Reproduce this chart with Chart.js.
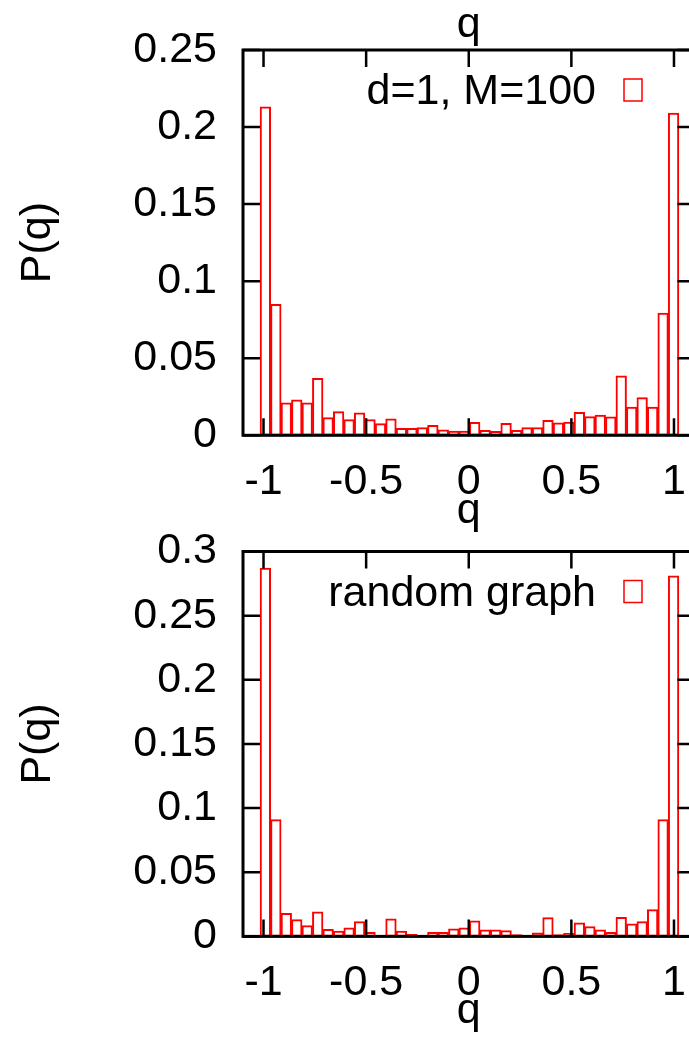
<!DOCTYPE html>
<html>
<head>
<meta charset="utf-8">
<script src="https://cdn.jsdelivr.net/npm/chart.js@4"></script>
<style>
  html, body { margin: 0; padding: 0; background: #fff; overflow: hidden; }
  body { position: relative; width: 689px; height: 1048px; }
  canvas { position: absolute; left: 0; }
  #top { top: 0; }
  #bottom { top: 500px; }
</style>
</head>
<body>
<canvas id="top" width="720" height="545"></canvas>
<canvas id="bottom" width="720" height="548"></canvas>
<script>
// bin centres (q) shared by both histograms
const qBins = [-0.991, -0.940, -0.889, -0.838, -0.787, -0.736, -0.685, -0.634, -0.583, -0.532,
  -0.481, -0.430, -0.379, -0.328, -0.277, -0.226, -0.175, -0.124, -0.073, -0.022,
  0.029, 0.080, 0.131, 0.182, 0.233, 0.284, 0.335, 0.386, 0.437, 0.488,
  0.539, 0.590, 0.641, 0.692, 0.743, 0.794, 0.845, 0.896, 0.947, 0.998];

// P(q), d=1, M=100
const pChain = [0.213, 0.085, 0.021, 0.023, 0.021, 0.037, 0.0114, 0.0153, 0.0102, 0.0146,
  0.0102, 0.0075, 0.0106, 0.0045, 0.0045, 0.0049, 0.0065, 0.0035, 0.0027, 0.0027,
  0.0084, 0.0032, 0.0026, 0.0078, 0.0032, 0.0049, 0.0049, 0.0097, 0.008, 0.0086,
  0.0149, 0.0121, 0.013, 0.0119, 0.0385, 0.0182, 0.0244, 0.0182, 0.0792, 0.209];

// P(q), random graph
const pRandom = [0.287, 0.091, 0.018, 0.013, 0.0084, 0.019, 0.0055, 0.004, 0.0066, 0.0115,
  0.0032, 0.0008, 0.0136, 0.004, 0.0016, 0.0005, 0.0032, 0.0032, 0.0058, 0.0066,
  0.012, 0.005, 0.005, 0.0045, 0.0013, 0.0005, 0.0027, 0.0146, 0.0013, 0.0024,
  0.0105, 0.0076, 0.005, 0.0032, 0.0149, 0.0097, 0.0115, 0.0208, 0.091, 0.281];

const xTicks = [-1, -0.5, 0, 0.5, 1];
const xTickLabels = ["-1", "-0.5", "0", "0.5", "1"];
const yTicksChain = [0, 0.05, 0.1, 0.15, 0.2, 0.25];
const yLabelsChain = ["0", "0.05", "0.1", "0.15", "0.2", "0.25"];
const yTicksRandom = [0, 0.05, 0.1, 0.15, 0.2, 0.25, 0.3];
const yLabelsRandom = ["0", "0.05", "0.1", "0.15", "0.2", "0.25", "0.3"];

const FONT = '"Liberation Sans", Arial, sans-serif';
const TICK_LEN = 17;

// gnuplot-like frame, mirrored inward ticks, key and axis labels
const framePlugin = {
  id: 'frame',
  afterDatasetsDraw(chart, args, opts) {
    const { ctx, chartArea: a, scales: { x, y } } = chart;
    ctx.save();

    ctx.strokeStyle = '#000';
    ctx.lineWidth = 2.5;
    ctx.beginPath();
    xTicks.forEach(v => {
      const px = x.getPixelForValue(v);
      ctx.moveTo(px, a.bottom);
      ctx.lineTo(px, a.bottom - TICK_LEN);
      ctx.moveTo(px, a.top);
      ctx.lineTo(px, a.top + TICK_LEN);
    });
    opts.yTicks.forEach(v => {
      const py = y.getPixelForValue(v);
      ctx.moveTo(a.left, py);
      ctx.lineTo(a.left + TICK_LEN, py);
      ctx.moveTo(a.right, py);
      ctx.lineTo(a.right - TICK_LEN, py);
    });
    ctx.stroke();

    ctx.lineWidth = 3;
    ctx.strokeRect(a.left, a.top, a.right - a.left, a.bottom - a.top);

    // key
    ctx.fillStyle = '#000';
    ctx.font = '43px ' + FONT;
    ctx.textAlign = 'right';
    ctx.textBaseline = 'alphabetic';
    ctx.fillText(opts.key, 596, a.top + 54);
    ctx.strokeStyle = '#ff0000';
    ctx.lineWidth = 1.5;
    ctx.strokeRect(624, a.top + 29, 18, 22);

    // axis labels
    ctx.textAlign = 'center';
    const q0 = x.getPixelForValue(0);
    if (opts.topLabel) ctx.fillText('q', q0, 37);
    ctx.fillText('q', q0, 523);

    ctx.translate(50, (a.top + a.bottom) / 2);
    ctx.rotate(-Math.PI / 2);
    ctx.fillText('P(q)', 0, 0);

    ctx.restore();
  }
};

// keep edge labels from pushing the plot area around
function noEdgePadding(s) {
  s.paddingLeft = 0;
  s.paddingRight = 0;
  s.paddingTop = 0;
  s.paddingBottom = 0;
}

function makeHist(canvasId, values, yTicks, yLabels, yMax, key, topPad, xAxisH, topLabel) {
  const ctx = document.getElementById(canvasId).getContext('2d');
  return new Chart(ctx, {
    type: 'bar',
    data: {
      datasets: [{
        label: key,
        data: qBins.map((q, i) => ({ x: q, y: values[i] })),
        backgroundColor: 'rgba(0,0,0,0)',
        borderColor: '#ff0000',
        borderWidth: 1.2,
        borderSkipped: false,
        inflateAmount: 0.4,
        barPercentage: 1,
        categoryPercentage: 1
      }]
    },
    options: {
      responsive: false,
      animation: false,
      events: [],
      layout: { padding: { left: 0, top: topPad, right: 25.5, bottom: 0 } },
      plugins: {
        legend: { display: false },
        tooltip: { enabled: false },
        frame: { yTicks: yTicks, key: key, topLabel: topLabel }
      },
      scales: {
        x: {
          type: 'linear',
          min: -1.1,
          max: 1.1,
          offset: false,
          grid: { display: false, drawTicks: false },
          border: { display: false },
          afterBuildTicks: s => { s.ticks = xTicks.map(v => ({ value: v })); },
          afterFit: s => { s.height = xAxisH; noEdgePadding(s); },
          ticks: {
            autoSkip: false,
            maxRotation: 0,
            padding: 21,
            color: '#000',
            font: { family: FONT, size: 43, lineHeight: 1.2 },
            callback: (v, i) => xTickLabels[i]
          }
        },
        y: {
          min: 0,
          max: yMax,
          grid: { display: false, drawTicks: false },
          border: { display: false },
          afterBuildTicks: s => { s.ticks = yTicks.map(v => ({ value: v })); },
          afterFit: s => { s.width = 243; noEdgePadding(s); },
          ticks: {
            padding: 26,
            color: '#000',
            font: { family: FONT, size: 43, lineHeight: 1.2 },
            callback: (v, i) => yLabels[i]
          }
        }
      }
    },
    plugins: [framePlugin]
  });
}

makeHist('top', pChain, yTicksChain, yLabelsChain, 0.25, 'd=1, M=100', 50, 545 - 435.3, true);
makeHist('bottom', pRandom, yTicksRandom, yLabelsRandom, 0.3, 'random graph', 51.5, 548 - 436.4, false);
</script>
</body>
</html>
